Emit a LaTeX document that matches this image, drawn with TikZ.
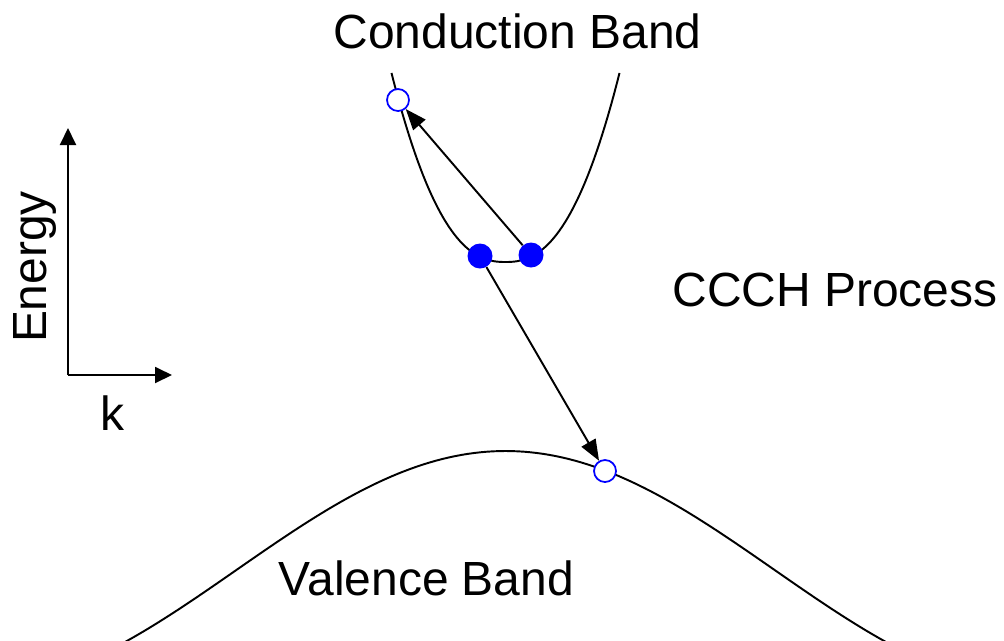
\documentclass[tikz,border=0pt]{standalone}
\usepackage{fontspec}
\setmainfont{Liberation Sans}
\usetikzlibrary{arrows.meta}
\tikzset{
  band/.style={line width=1.1pt, black},
  axis/.style={line width=1.1pt, -{Triangle[length=0.34cm,width=0.32cm]}},
  trans/.style={line width=1.1pt, -{Triangle[length=0.42cm,width=0.32cm]}},
  hole/.style={circle, draw=blue, fill=white, line width=1pt, minimum size=0.44cm, inner sep=0pt},
  electron/.style={circle, fill=blue, minimum size=0.5cm, inner sep=0pt},
  lbl/.style={font=\fontsize{27.3}{32}\selectfont, inner sep=0pt, anchor=base},
}
\begin{document}
\begin{tikzpicture}[x=0.02cm,y=-0.02cm]
\useasboundingbox (0,0) rectangle (1004,640);
% axes
\coordinate (o) at (68,375);
\coordinate (ytip) at (68,128);
\coordinate (xtip) at (172,375);
\draw[axis] (o) -- (ytip);
\draw[axis] (o) -- (xtip);
\node[lbl, rotate=90] (energy) at (46,267) {Energy};
\node[lbl] (k) at (112,430) {k};
% bands
\draw[band] plot[domain=-114:114, samples=81] ({505.5+\x},{262-189*pow(abs(\x)/114+0.0001,2.4)});
\draw[band] plot[domain=-380:380, samples=121] ({505.5+\x},{451+119*(1-cos(0.3344*\x))});
% labels
\node[lbl] (cb) at (517.5,48) {Conduction Band};
\node[lbl] (ccch) at (835,306) {CCCH Process};
\node[lbl] (vb) at (426.5,595) {Valence Band};
% carriers
\node[hole] (h1) at (398,100) {};
\node[hole] (h2) at (605,471) {};
\node[electron] (e1) at (480,256) {};
\node[electron] (e2) at (531,255) {};
% transitions
\draw[trans] (e2) -- (h1);
\draw[trans] (e1) -- (h2);
\end{tikzpicture}
\end{document}
